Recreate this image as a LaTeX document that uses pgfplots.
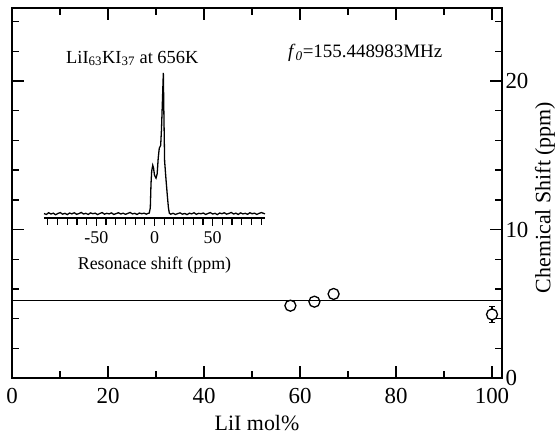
\documentclass[border=0pt]{standalone}
\usepackage{fontspec}
\setmainfont{Liberation Serif}
\usepackage{pgfplots}
\pgfplotsset{compat=1.18}
\begin{document}
\begin{tikzpicture}
\path (-12bp,-56bp) rectangle (547bp,378bp);
\begin{axis}[
 at={(0,0)}, anchor=south west,
 scale only axis, width=490bp, height=370bp,
 xmin=0, xmax=102.08, ymin=0, ymax=24.92,
 xtick={0,20,...,100}, minor xtick={10,30,...,90},
 ytick={0,10,20}, minor ytick={2,4,...,24},
 tick align=inside,
 major tick length=12bp, minor tick length=7bp,
 axis line style={line width=1.6bp},
 tick style={line width=1.4bp, black},
 yticklabel pos=right,
 ticklabel style={font=\fontsize{23}{27}\selectfont},
 xticklabel style={yshift=-7bp},
 /pgf/number format/assume math mode=true,
 xlabel={LiI mol\%}, ylabel={Chemical Shift (ppm)},
 label style={font=\fontsize{22}{26}\selectfont},
 xlabel style={at={(axis description cs:0.5,0)}, anchor=base, yshift=-52bp},
 ylabel style={at={(axis description cs:1.0878,0.488)}, anchor=center},
]
\addplot[black, line width=1.1bp] coordinates {(0,5.19) (102.08,5.19)};
\addplot[only marks, black, mark=o, mark size=5.5bp, mark options={line width=1.3bp}] coordinates {(58,4.87) (63,5.14) (67,5.66)};
\addplot[only marks, black, mark=*, mark size=5.5bp, mark options={line width=1.3bp, fill=white},
 error bars/.cd, y dir=both, y explicit, error bar style={line width=1.2bp}, error mark options={rotate=90, mark size=3bp, line width=1.2bp}]
 coordinates {(100,4.28) +- (0,0.55)};
\node[anchor=base west, font=\fontsize{18.5}{20}\selectfont, inner sep=0pt] at (axis cs:11.25,21.2) {LiI\textsubscript{63}KI\textsubscript{37} at 656K};
\node[anchor=base west, font=\fontsize{19}{21}\selectfont, inner sep=0pt] at (axis cs:57.5,21.58) {\textit{f}\textsubscript{\textit{0}}=155.448983MHz};
\end{axis}
\begin{axis}[
 at={(32bp,160bp)}, anchor=south west,
 scale only axis, width=221bp, height=145bp,
 xmin=-95, xmax=95, ymin=-0.021, ymax=1,
 axis x line=bottom, axis y line=none,
 axis line style={-, line width=1.3bp},
 xtick={-50,0,50},
 minor xtick={-91.667,-83.333,-75,-66.667,-58.333,-41.667,-33.333,-25,-16.667,-8.333,8.333,16.667,25,33.333,41.667,58.333,66.667,75,83.333,91.667},
 tick align=outside,
 major tick length=8bp, minor tick length=7bp,
 tick style={line width=1.1bp, black},
 ticklabel style={font=\fontsize{18}{20}\selectfont},
 xticklabel style={yshift=-2bp},
 /pgf/number format/assume math mode=true,
 xlabel={Resonace shift (ppm)},
 xlabel style={font=\fontsize{18}{20}\selectfont, at={(axis description cs:0.5,0)}, anchor=center, yshift=-47bp},
 clip=false,
]
\addplot[black, line width=1.3bp] coordinates {
(-95,0.010) (-93,0.004) (-91,0.016) (-89,0.007) (-87,0.013) (-85,0.002) (-83,0.011) (-81,0.017) (-79,0.006) (-77,0.012)
(-75,0.003) (-73,0.014) (-71,0.008) (-69,0.016) (-67,0.005) (-65,0.010) (-63,0.018) (-61,0.007) (-59,0.012) (-57,0.004)
(-55,0.015) (-53,0.009) (-51,0.013) (-49,0.003) (-47,0.011) (-45,0.017) (-43,0.006) (-41,0.012) (-39,0.008) (-37,0.015)
(-35,0.004) (-33,0.010) (-31,0.016) (-29,0.007) (-27,0.013) (-25,0.005) (-23,0.011) (-21,0.018) (-19,0.008) (-17,0.012)
(-15,0.004) (-13,0.014) (-11,0.009) (-9,0.013) (-7,0.006) (-5.5,0.012) (-4.5,0.014)
(-3.6,0.05) (-3.0,0.22) (-2.4,0.31) (-1.5,0.35) (-0.8,0.33) (0.0,0.28) (1.3,0.26) (2.3,0.29) (3.2,0.40)
(4.1,0.47) (5.3,0.49) (6.0,0.60) (6.8,0.80) (7.6,1.00) (8.1,0.70) (8.7,0.38) (9.8,0.26) (11.0,0.14) (12.0,0.05) (12.8,0.012)
(14,0.006) (16,0.012) (18,0.004) (20,0.010) (22,0.015) (24,0.006) (26,0.011) (28,0.003) (30,0.013) (32,0.008)
(34,0.016) (36,0.005) (38,0.012) (40,0.009) (42,0.014) (44,0.004) (46,0.011) (48,0.017) (50,0.007) (52,0.012)
(54,0.003) (56,0.014) (58,0.009) (60,0.016) (62,0.006) (64,0.011) (66,0.018) (68,0.007) (70,0.013) (72,0.004)
(74,0.015) (76,0.008) (78,0.012) (80,0.005) (82,0.016) (84,0.009) (86,0.013) (88,0.004) (90,0.012) (92,0.017) (95,0.008)
};
\end{axis}
\end{tikzpicture}
\end{document}
